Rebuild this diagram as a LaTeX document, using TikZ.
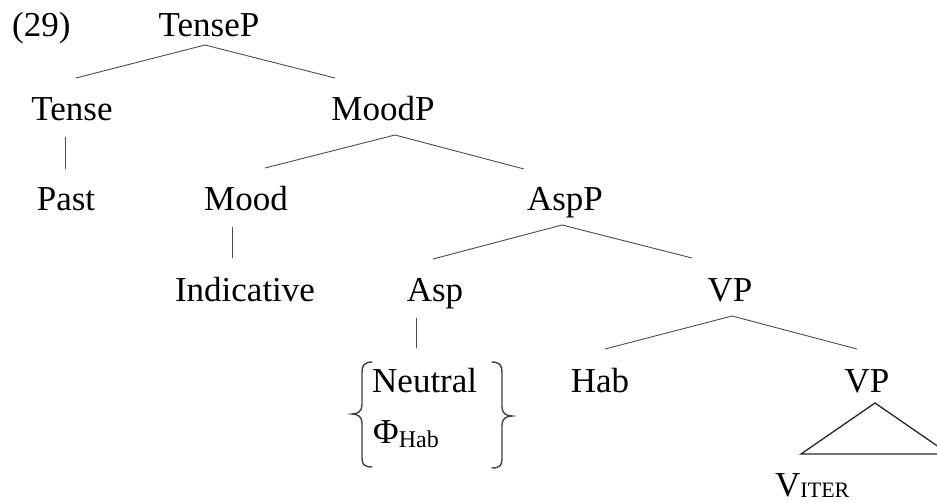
\documentclass[tikz,border=0pt]{standalone}
\usepackage{fontspec}
\setmainfont{Liberation Serif}
\usetikzlibrary{calc}
\tikzset{
  lab/.style={inner sep=0pt, anchor=base, font=\fontsize{35}{42}\selectfont},
  labw/.style={lab, anchor=base west},
  branch/.style={draw=black!70, line width=0.9pt},
  roof/.style={draw=black!85, line width=1.3pt, line join=miter},
  curly/.style={draw=black!75, line width=1.4pt, line cap=round}
}
\begin{document}
\begin{tikzpicture}[x=1pt, y=-1pt]
\useasboundingbox (0,0) rectangle (937,503);
\clip (0,0) rectangle (937,503);

% example number
\node[labw] (num) at (12,37) {(29)};

% tree labels, placed by baseline
\node[lab] (TenseP) at (209,37) {TenseP};
\node[lab] (Tense) at (72,121) {Tense};
\node[lab] (MoodP) at (383,121) {MoodP};
\node[lab] (Past) at (66,210) {Past};
\node[lab] (Mood) at (246,210) {Mood};
\node[lab] (AspP) at (565,210) {AspP};
\node[lab] (Indic) at (245,301) {Indicative};
\node[lab] (Asp) at (435,301) {Asp};
\node[lab] (VP) at (730,301) {VP};
\node[labw] (Neutral) at (372,392) {Neutral};
\node[lab] (Hab) at (600,392) {Hab};
\node[lab] (VPlow) at (867,392) {VP};
\node[labw] (PhiHab) at (373,443) {Φ\raisebox{-4pt}{\fontsize{24}{24}\selectfont Hab}};
\node[labw] (Viter) at (775,496) {V\raisebox{-1pt}{\fontsize{22}{22}\selectfont ITER}};

% branches
\draw[branch] ($(Tense.base)+(4,-43)$) -- ($(TenseP.base)+(-4,8)$) -- ($(MoodP.base)+(-48,-43)$);
\draw[branch] ($(Mood.base)+(19,-42)$) -- ($(MoodP.base)+(12,14)$) -- ($(AspP.base)+(-41,-41)$);
\draw[branch] ($(Asp.base)+(-2,-42)$) -- ($(AspP.base)+(-3,15)$) -- ($(VP.base)+(-38,-43)$);
\draw[branch] ($(Hab.base)+(5,-43)$) -- ($(VP.base)+(2,15)$) -- ($(VPlow.base)+(-10,-43)$);

% unary branches
\draw[branch] ($(Tense.base)+(-7,16)$) -- ($(Past.base)+(-1,-41)$);
\draw[branch] ($(Mood.base)+(-14,17)$) -- ($(Indic.base)+(-13,-43)$);
\draw[branch] ($(Asp.base)+(-19,17)$) -- ($(Neutral.base west)+(44,-44)$);

% roof over the lower VP
\draw[roof] ($(VPlow.base)+(8,11)$) -- ++(-74,51) -- ++(148,0) -- cycle;

% braces around the two Asp values
\begin{scope}[shift={(Neutral.base west)}]
  \draw[curly] (0,-30) .. controls (-8,-30) and (-10,-26) .. (-10,-20)
    -- (-10,13) .. controls (-10,19) and (-14,22) .. (-20,22)
    .. controls (-14,22) and (-10,25) .. (-10,31)
    -- (-10,66) .. controls (-10,72) and (-8,75) .. (0,75);
  \draw[curly] (120,-30) .. controls (128,-30) and (130,-26) .. (130,-20)
    -- (130,15) .. controls (130,21) and (134,24) .. (140,24)
    .. controls (134,24) and (130,27) .. (130,33)
    -- (130,67) .. controls (130,73) and (128,76) .. (120,76);
\end{scope}
\end{tikzpicture}
\end{document}
